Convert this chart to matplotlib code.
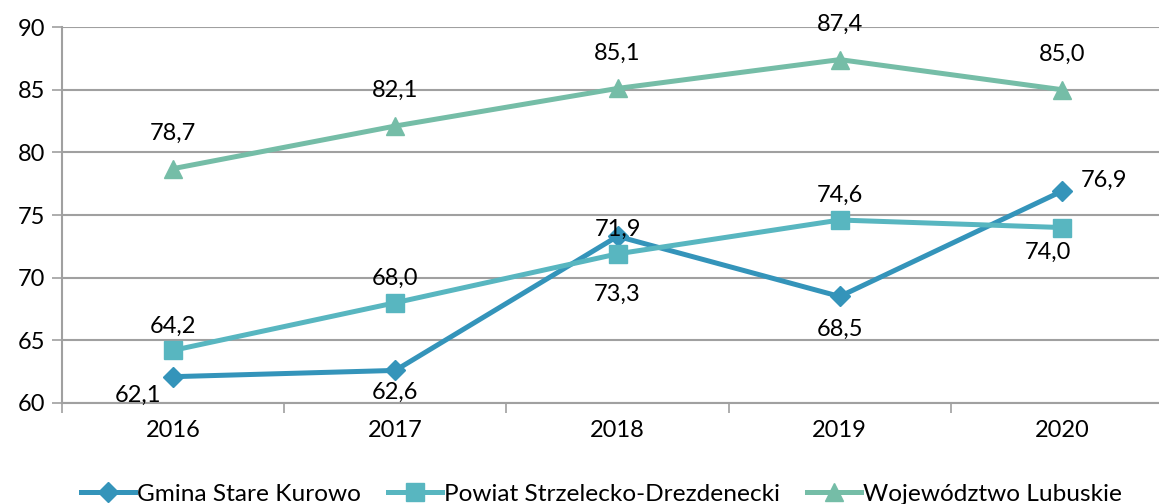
import matplotlib
matplotlib.use("Agg")
import matplotlib.pyplot as plt

plt.rcParams['font.family'] = ['Lato', 'DejaVu Sans']

# dane
lata = ['2016', '2017', '2018', '2019', '2020']
gmina = [62.1, 62.6, 73.3, 68.5, 76.9]
powiat = [64.2, 68.0, 71.9, 74.6, 74.0]
wojewodztwo = [78.7, 82.1, 85.1, 87.4, 85.0]

nazwy = ['Gmina Stare Kurowo', 'Powiat Strzelecko-Drezdenecki', 'Województwo Lubuskie']
kolory = ['#3494BA', '#58B6C0', '#75BDA7']

fig = plt.figure(figsize=(11.59, 5.04), dpi=100)
ax = fig.add_axes([0.0535, 0.2004, 0.9586, 0.746])

x = range(len(lata))
ax.plot(x, gmina, color=kolory[0], lw=3.6, marker='D', ms=10, label=nazwy[0], zorder=3)
ax.plot(x, powiat, color=kolory[1], lw=3.6, marker='s', ms=13, label=nazwy[1], zorder=3)
ax.plot(x, wojewodztwo, color=kolory[2], lw=3.6, marker='^', ms=13, label=nazwy[2], zorder=3)

fs = 17
# etykiety danych
def fmt(v):
    return f"{v:.1f}".replace('.', ',')

for i, v in enumerate(wojewodztwo):
    ax.annotate(fmt(v), (i, v), xytext=(0, 18), textcoords='offset points', ha='center', va='bottom', fontsize=fs)

for i, v in enumerate(powiat):
    if i == 4:
        ax.annotate(fmt(v), (i, v), xytext=(-10, -10), textcoords='offset points', ha='center', va='top', fontsize=fs)
    else:
        ax.annotate(fmt(v), (i, v), xytext=(0, 10), textcoords='offset points', ha='center', va='bottom', fontsize=fs)

pozycje_g = [(-25, -6), (0, -8), (0, -34), (0, -16), (30, 8)]
for i, v in enumerate(gmina):
    dx, dy = pozycje_g[i]
    ax.annotate(fmt(v), (i, v), xytext=(dx, dy), textcoords='offset points', ha='center',
                va='top' if dy < 0 else 'center', fontsize=fs)

ax.set_xlim(-0.5, 4.5)
ax.set_ylim(60, 90)
ax.set_yticks(range(60, 91, 5))
ax.set_xticks(list(x))
ax.set_xticklabels(lata)
ax.set_xticks([i + 0.5 for i in range(-1, 5)], minor=True)
ax.tick_params(axis='x', which='major', length=0, pad=12, labelsize=fs)
ax.tick_params(axis='x', which='minor', length=7, color='#A0A0A0', width=1.2)
ax.tick_params(axis='y', length=7, color='#A0A0A0', width=1.2, labelsize=fs, pad=5)
ax.yaxis.grid(True, color='#A0A0A0', lw=1.5)
ax.set_axisbelow(True)
for s in ['top', 'right']:
    ax.spines[s].set_visible(False)
for s in ['left', 'bottom']:
    ax.spines[s].set_color('#A0A0A0')
    ax.spines[s].set_linewidth(1.5)

fig.legend(loc='lower center', bbox_to_anchor=(0.519, -0.045), ncol=3, frameon=False, fontsize=17.6,
           handlelength=2.2, columnspacing=1.1, handletextpad=0.1)

fig.savefig('out.png', dpi=100)
